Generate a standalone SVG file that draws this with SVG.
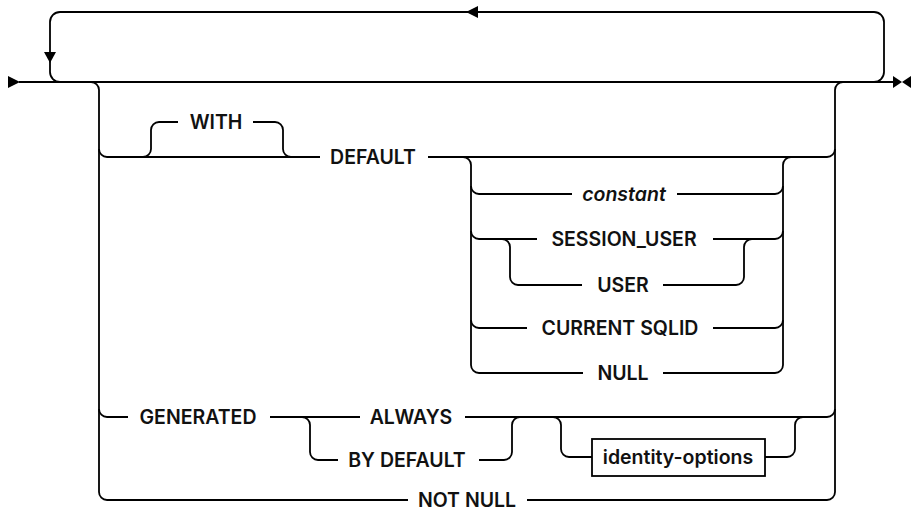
<svg xmlns="http://www.w3.org/2000/svg" width="911" height="512" viewBox="0 0 911 512">
<style>
.c{fill:none;stroke:#000;stroke-width:1.8}
.a{fill:#000;stroke:none}
.t{font-family:Inter,"Liberation Sans",sans-serif;font-size:19.5px;font-weight:600;fill:#111;text-anchor:middle}
.i{font-style:italic}
.b{fill:#fff;stroke:#000;stroke-width:1.8}
</style>
<rect width="911" height="512" fill="#fff"/>
<g id="connectors">
<path class="c" d="M19 82 L893 82"/>
<path class="c" d="M60 82 A10 10 0 0 1 50 72 L50 22 A10 10 0 0 1 60 12 L874 12 A10 10 0 0 1 884 22 L884 72 A10 10 0 0 1 874 82"/>
<path class="c" d="M91 82 A8 8 0 0 1 99 90 L99 492 A8 8 0 0 0 107 500 L408 500"/>
<path class="c" d="M843 82 A8 8 0 0 0 835 90 L835 492 A8 8 0 0 1 827 500 L527 500"/>
<path class="c" d="M99 149 A8 8 0 0 0 107 157 L320 157"/>
<path class="c" d="M428 157 L827 157 A8 8 0 0 0 835 149"/>
<path class="c" d="M143 157 A8 8 0 0 0 151 149 L151 130 A8 8 0 0 1 159 122 L178 122"/>
<path class="c" d="M253 122 L275 122 A8 8 0 0 1 283 130 L283 149 A8 8 0 0 0 291 157"/>
<path class="c" d="M463 157 A8 8 0 0 1 471 165 L471 365 A8 8 0 0 0 479 373 L583 373"/>
<path class="c" d="M663 373 L775 373 A8 8 0 0 0 783 365 L783 165 A8 8 0 0 1 791 157"/>
<path class="c" d="M471 186 A8 8 0 0 0 479 194 L572 194"/>
<path class="c" d="M677 194 L775 194 A8 8 0 0 0 783 186"/>
<path class="c" d="M471 231 A8 8 0 0 0 479 239 L537 239"/>
<path class="c" d="M713 239 L775 239 A8 8 0 0 0 783 231"/>
<path class="c" d="M502 239 A8 8 0 0 1 510 247 L510 277 A8 8 0 0 0 518 285 L582 285"/>
<path class="c" d="M663 285 L736 285 A8 8 0 0 0 744 277 L744 247 A8 8 0 0 1 752 239"/>
<path class="c" d="M471 320 A8 8 0 0 0 479 328 L527 328"/>
<path class="c" d="M713 328 L775 328 A8 8 0 0 0 783 320"/>
<path class="c" d="M99 409 A8 8 0 0 0 107 417 L128 417"/>
<path class="c" d="M270 417 L360 417"/>
<path class="c" d="M465 417 L827 417 A8 8 0 0 0 835 409"/>
<path class="c" d="M302 417 A8 8 0 0 1 310 425 L310 452 A8 8 0 0 0 318 460 L338 460"/>
<path class="c" d="M479 460 L504 460 A8 8 0 0 0 512 452 L512 425 A8 8 0 0 1 520 417"/>
<path class="c" d="M553 417 A8 8 0 0 1 561 425 L561 449 A8 8 0 0 0 569 457 L592 457"/>
<path class="c" d="M765 457 L787 457 A8 8 0 0 0 795 449 L795 425 A8 8 0 0 1 803 417"/>
<polygon class="a" points="8,76 20,82 8,88"/>
<polygon class="a" points="893,76 902,82 893,88"/>
<polygon class="a" points="911,76 902,82 911,88"/>
<polygon class="a" points="44,52 56,52 50,63"/>
<polygon class="a" points="466,12 478,6 478,18"/>
</g>
<g id="n-with"><text class="t" x="216" y="129">WITH</text></g>
<g id="n-default"><text class="t" x="373" y="164">DEFAULT</text></g>
<g id="n-constant"><text class="t i" x="624" y="201">constant</text></g>
<g id="n-session-user"><text class="t" x="624" y="246">SESSION_USER</text></g>
<g id="n-user"><text class="t" x="623" y="292">USER</text></g>
<g id="n-current-sqlid"><text class="t" x="620" y="335">CURRENT SQLID</text></g>
<g id="n-null"><text class="t" x="623" y="380">NULL</text></g>
<g id="n-generated"><text class="t" x="198" y="424">GENERATED</text></g>
<g id="n-always"><text class="t" x="411" y="424">ALWAYS</text></g>
<g id="n-by-default"><text class="t" x="407" y="467">BY DEFAULT</text></g>
<g id="n-identity-options"><rect class="b" x="592" y="439" width="173" height="37"/><text class="t" x="678" y="464">identity-options</text></g>
<g id="n-not-null"><text class="t" x="467" y="507">NOT NULL</text></g>
</svg>
